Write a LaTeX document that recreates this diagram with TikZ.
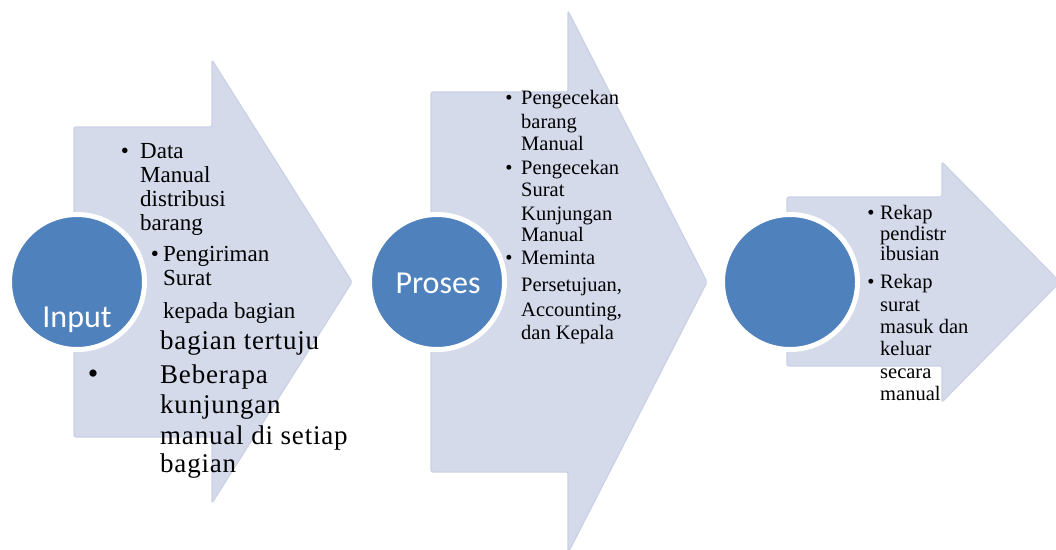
\documentclass[tikz,border=0pt]{standalone}
\usepackage{fontspec}
\setmainfont{Liberation Serif}
\newfontfamily\calib{Carlito}
\newfontfamily\bigserif[LetterSpace=3]{Liberation Serif}
\definecolor{arrowfill}{RGB}{213,218,235}
\definecolor{arrowedge}{RGB}{203,209,229}
\definecolor{circblue}{RGB}{79,129,189}
\tikzset{
  arrowshape/.style={fill=arrowfill, draw=arrowedge, line width=1.2pt, rounded corners=2pt, line join=round},
  bluecirc/.style={circle, minimum size=135pt, inner sep=0pt, fill=circblue, draw=white, line width=5pt},
  circtext/.style={anchor=base, inner sep=0pt, text=white, font=\calib\fontsize{32}{36}\selectfont},
  smalltxt/.style={anchor=base west, inner sep=0pt, font=\fontsize{23}{25}\selectfont},
  bigtxt/.style={anchor=base west, inner sep=0pt, font=\bigserif\fontsize{27}{30}\selectfont},
  midtxt/.style={anchor=base west, inner sep=0pt, font=\fontsize{20.5}{23}\selectfont},
  bul/.style={anchor=base, inner sep=0pt},
}
\begin{document}
\begin{tikzpicture}[x=1pt,y=-1pt]
\useasboundingbox (0,0) rectangle (1056,549);
\begin{scope}
\clip (0,0) rectangle (1056,549);
% arrows
\path[arrowshape] (74,127) -- (212,127) -- (212,60) -- (352,282) -- (212,503) -- (212,437) -- (74,437) -- cycle;
\path[arrowshape] (431,92) -- (568,92) -- (568,11) -- (707,282) -- (568,553) -- (568,472) -- (431,472) -- cycle;
\path[arrowshape] (787,197) -- (942,197) -- (942,162) -- (1060,282) -- (942,402) -- (942,366) -- (787,366) -- cycle;
% circles
\node[bluecirc] (c1) at (77,282) {};
\node[bluecirc] (c2) at (437,282) {};
\node[bluecirc] (c3) at (790,282) {};
\end{scope}
\node[circtext] (t1) at (77,327) {Input};
\node[circtext] (t2) at (438,293) {Proses};
% arrow 1 text
\node[bul, font=\fontsize{23}{25}\selectfont] (b11) at (125,158) {•};
\foreach \t/\y [count=\i] in {Data/158, Manual/182, distribusi/206, barang/230}
  \node[smalltxt] (a1s\i) at (140,\y) {\t};
\node[bul, font=\fontsize{23}{25}\selectfont] (b12) at (155,261) {•};
\foreach \t/\y [count=\i] in {Pengiriman/261, Surat/285, kepada bagian/318}
  \node[smalltxt] (a1p\i) at (163,\y) {\t};
\node[bul, font=\fontsize{30}{30}\selectfont] (b13) at (93,383) {•};
\foreach \t/\y [count=\i] in {bagian tertuju/349, Beberapa/383, kunjungan/413, manual di setiap/444, bagian/472}
  \node[bigtxt] (a1b\i) at (160,\y) {\t};
% arrow 2 text
\node[bul, font=\fontsize{20.5}{23}\selectfont] (b21) at (509,104) {•};
\node[bul, font=\fontsize{20.5}{23}\selectfont] (b22) at (509,174) {•};
\node[bul, font=\fontsize{20.5}{23}\selectfont] (b23) at (509,264) {•};
\foreach \t/\y [count=\i] in {Pengecekan/104, barang/128, Manual/150, Pengecekan/174, Surat/196, Kunjungan/220, Manual/241, Meminta/264, {Persetujuan,}/291, {Accounting,}/316, dan Kepala/339}
  \node[midtxt] (a2l\i) at (521,\y) {\t};
% arrow 3 text
\node[bul, font=\fontsize{20.5}{23}\selectfont] (b31) at (871,219) {•};
\node[bul, font=\fontsize{20.5}{23}\selectfont] (b32) at (871,288) {•};
\foreach \t/\y [count=\i] in {Rekap/219, pendistr/240, ibusian/260, Rekap/288, surat/311, masuk dan/333, keluar/355, secara/378, manual/400}
  \node[midtxt] (a3l\i) at (880,\y) {\t};
\end{tikzpicture}
\end{document}
